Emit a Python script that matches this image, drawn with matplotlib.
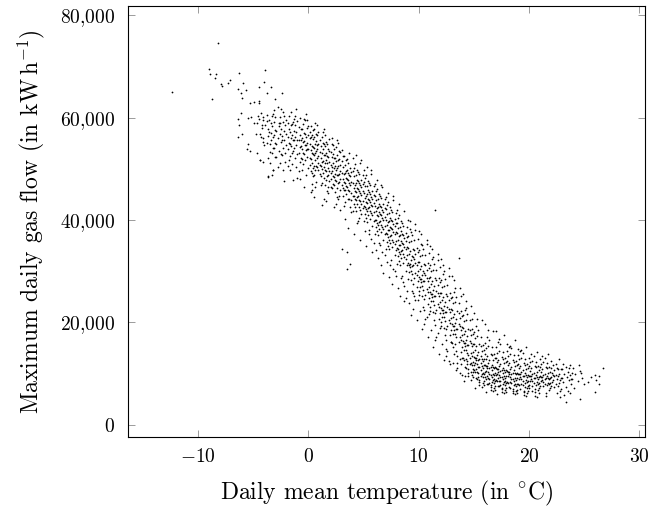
import matplotlib
matplotlib.use("Agg")
import matplotlib.pyplot as plt
import numpy as np

# points, flat pairs:
# (temperature in 0.1 degC, max gas flow in 100 kWh/h)
pts_cold = [-124, 650, -90, 696, -89, 686, -84, 686, -85, 678, -82, 747, -63, 688, -39, 694,
            -79, 666, -78, 663, -73, 667, -71, 673, -59, 668, -64, 656, -61, 649, -57, 654,
            -40, 669, -45, 660, -38, 649, -87, 636, -60, 639, -53, 628, -49, 631, -45, 633,
            -45, 628, -61, 610, -64, 597, -55, 599, -52, 601, -49, 590, -47, 589, -63, 586,
            -60, 568, -64, 563, -55, 548, -56, 539, -53, 535, -47, 531, -44, 518, -41, 514,
            -37, 486, -46, 603, -43, 609, -41, 602, -38, 605, -45, 598, -41, 595, -38, 594,
            -42, 586, -39, 585, -37, 578, -48, 568, -44, 568, -42, 580, -43, 562, -41, 560,
            -37, 565, -41, 552, -38, 551, -40, 546, -37, 521, -44, 517]

pts_m3 = [-36, 572, -35, 548, -34, 660, -34, 589, -33, 603, -33, 531, -32, 562, -32, 497,
          -31, 615, -31, 541, -30, 577, -30, 523, -36, 595, -35, 511, -34, 556, -33, 584,
          -32, 608, -31, 566, -30, 550, -35, 534, -33, 488, -31, 592, -34, 570, -32, 541,
          -30, 601, -37, 484, -32, 497, -30, 637]

pts_m2 = [-29, 575, -29, 548, -28, 622, -28, 561, -28, 503, -27, 590, -27, 536, -26, 569,
          -26, 512, -26, 601, -25, 617, -25, 553, -25, 579, -24, 648, -24, 527, -24, 565,
          -23, 592, -23, 541, -23, 498, -22, 574, -22, 556, -22, 603, -21, 532, -21, 586,
          -21, 514, -20, 568, -20, 547, -20, 595, -27, 583, -25, 530, -23, 611, -29, 524,
          -26, 589, -24, 557, -22, 476]

pts_m1 = [-19, 562, -19, 538, -19, 589, -18, 517, -18, 604, -18, 551, -17, 573, -17, 526,
          -17, 498, -16, 585, -16, 545, -16, 612, -15, 532, -15, 567, -15, 509, -14, 591,
          -14, 556, -14, 478, -13, 574, -13, 540, -13, 598, -12, 521, -12, 563, -12, 585,
          -11, 547, -11, 503, -11, 572, -10, 529, -10, 556, -10, 594, -18, 579, -16, 560,
          -14, 535, -12, 604, -15, 588, -13, 557, -17, 549, -11, 617, -19, 506, -10, 482]

pts_m0 = [-9, 557, -9, 531, -9, 582, -8, 513, -8, 566, -8, 600, -7, 544, -7, 522, -7, 579,
          -6, 497, -6, 561, -6, 538, -5, 588, -5, 509, -5, 552, -4, 571, -4, 529, -4, 464,
          -3, 546, -3, 595, -3, 518, -2, 563, -2, 537, -2, 489, -1, 580, -1, 551, -1, 524,
          0, 566, 0, 539, 0, 502, -8, 543, -6, 579, -4, 555, -2, 608, -9, 495, -5, 531,
          -3, 568, -1, 596, -7, 556, 0, 584, -6, 520, -4, 598, -2, 547, -8, 481, -1, 538]

pts_0 = [1, 548, 1, 521, 1, 573, 2, 496, 2, 537, 2, 562, 2, 583, 3, 512, 3, 545, 3, 471,
         4, 558, 4, 529, 4, 502, 4, 577, 5, 541, 5, 488, 5, 563, 6, 517, 6, 549, 6, 532,
         6, 590, 7, 506, 7, 554, 7, 475, 8, 539, 8, 566, 8, 521, 9, 497, 9, 548, 9, 572,
         1, 508, 2, 519, 3, 566, 4, 486, 5, 527, 6, 465, 7, 536, 8, 503, 9, 525, 3, 531,
         5, 506, 7, 569, 9, 512, 2, 455, 4, 542, 6, 498, 8, 547, 1, 560, 3, 492, 5, 578]

pts_1 = [10, 534, 10, 508, 10, 556, 11, 487, 11, 521, 11, 545, 12, 499, 12, 562, 12, 473,
         13, 516, 13, 538, 13, 551, 14, 482, 14, 527, 14, 503, 15, 545, 15, 469, 15, 511,
         15, 567, 16, 495, 16, 532, 16, 518, 17, 486, 17, 549, 17, 456, 18, 523, 18, 501,
         18, 539, 19, 477, 19, 514, 19, 558, 10, 490, 11, 506, 12, 531, 13, 492, 14, 549,
         15, 528, 16, 479, 17, 512, 18, 488, 19, 536, 11, 468, 13, 573, 15, 498, 17, 526,
         19, 495, 12, 514, 14, 441, 16, 553, 18, 464]

pts_2 = [20, 508, 20, 481, 20, 533, 21, 495, 21, 462, 21, 524, 22, 547, 22, 486, 22, 511,
         23, 469, 23, 502, 23, 538, 24, 478, 24, 521, 24, 454, 25, 497, 25, 515, 25, 543,
         26, 463, 26, 489, 26, 528, 27, 505, 27, 472, 27, 551, 28, 491, 28, 519, 28, 447,
         29, 481, 29, 507, 29, 533, 20, 464, 21, 548, 22, 470, 23, 485, 24, 506, 25, 476,
         26, 501, 27, 489, 28, 536, 29, 458, 20, 492, 22, 529, 24, 490, 26, 445, 28, 474,
         21, 503, 23, 521, 25, 432, 27, 518, 29, 496]

pts_3 = [30, 492, 30, 468, 30, 515, 31, 447, 31, 481, 31, 503, 32, 526, 32, 459, 32, 490,
         33, 472, 33, 435, 33, 508, 34, 483, 34, 518, 34, 451, 35, 464, 35, 497, 35, 337,
         35, 304, 36, 478, 36, 442, 36, 512, 37, 489, 37, 456, 37, 531, 38, 468, 38, 315,
         38, 501, 39, 475, 39, 439, 39, 494, 30, 344, 31, 462, 32, 475, 33, 493, 34, 467,
         35, 481, 36, 458, 37, 473, 38, 487, 39, 452, 30, 537, 32, 428, 34, 496, 36, 493,
         38, 426, 31, 526, 33, 458, 35, 519, 37, 441]

pts_4 = [40, 472, 40, 448, 40, 495, 41, 431, 41, 463, 41, 486, 42, 509, 42, 441, 42, 469,
         43, 455, 43, 418, 43, 488, 44, 463, 44, 497, 44, 432, 45, 447, 45, 476, 45, 398,
         46, 457, 46, 425, 46, 491, 47, 468, 47, 437, 47, 512, 48, 449, 48, 411, 48, 479,
         49, 456, 49, 423, 49, 471, 40, 418, 41, 447, 42, 456, 43, 472, 44, 446, 45, 461,
         46, 440, 47, 452, 48, 465, 49, 438, 40, 521, 42, 425, 44, 479, 46, 473, 48, 432,
         41, 502, 43, 439, 45, 494, 47, 419, 49, 488]

pts_5 = [50, 452, 50, 428, 50, 474, 51, 411, 51, 443, 51, 466, 52, 489, 52, 421, 52, 448,
         53, 434, 53, 397, 53, 467, 54, 441, 54, 476, 54, 409, 55, 425, 55, 455, 55, 381,
         56, 436, 56, 402, 56, 469, 57, 446, 57, 414, 57, 491, 58, 427, 58, 388, 58, 457,
         59, 433, 59, 399, 59, 449, 50, 398, 51, 426, 52, 435, 53, 451, 54, 423, 55, 439,
         56, 418, 57, 430, 58, 442, 59, 415, 50, 497, 52, 405, 54, 458, 56, 451, 58, 409,
         51, 482, 53, 417, 55, 472, 57, 363, 59, 466]

pts_6 = [60, 427, 60, 401, 60, 448, 61, 386, 61, 417, 61, 439, 62, 461, 62, 395, 62, 423,
         63, 408, 63, 371, 63, 441, 64, 415, 64, 451, 64, 383, 65, 399, 65, 428, 65, 352,
         66, 410, 66, 376, 66, 443, 67, 420, 67, 387, 67, 465, 68, 401, 68, 361, 68, 431,
         69, 406, 69, 372, 69, 423, 60, 372, 61, 400, 62, 409, 63, 425, 64, 397, 65, 412,
         66, 391, 67, 404, 68, 416, 69, 389, 60, 471, 62, 379, 64, 432, 66, 425, 68, 383,
         61, 456, 63, 391, 65, 447, 67, 338, 69, 441]

pts_7 = [70, 401, 70, 374, 70, 422, 71, 358, 71, 390, 71, 412, 72, 436, 72, 367, 72, 396,
         73, 381, 73, 343, 73, 414, 74, 387, 74, 425, 74, 355, 75, 371, 75, 401, 75, 322,
         76, 382, 76, 347, 76, 416, 77, 392, 77, 358, 77, 439, 78, 372, 78, 332, 78, 403,
         79, 377, 79, 342, 79, 395, 70, 344, 71, 372, 72, 381, 73, 398, 74, 369, 75, 384,
         76, 362, 77, 376, 78, 388, 79, 360, 70, 446, 72, 350, 74, 405, 76, 398, 78, 354,
         71, 430, 73, 362, 75, 420, 77, 305, 79, 413]

pts_8 = [80, 374, 80, 346, 80, 395, 81, 329, 81, 362, 81, 385, 82, 409, 82, 338, 82, 368,
         83, 352, 83, 313, 83, 387, 84, 359, 84, 398, 84, 325, 85, 342, 85, 373, 85, 291,
         86, 353, 86, 317, 86, 389, 87, 364, 87, 328, 87, 241, 88, 343, 88, 301, 88, 375,
         89, 348, 89, 312, 89, 367, 80, 315, 81, 343, 82, 352, 83, 370, 84, 340, 85, 356,
         86, 333, 87, 347, 88, 360, 89, 331, 80, 420, 82, 320, 84, 378, 86, 371, 88, 323,
         81, 404, 83, 333, 85, 394, 87, 272, 89, 386]

pts_9 = [90, 346, 90, 317, 90, 368, 91, 299, 91, 333, 91, 357, 92, 382, 92, 308, 92, 339,
         93, 322, 93, 282, 93, 359, 94, 330, 94, 371, 94, 295, 95, 312, 95, 344, 95, 258,
         96, 323, 96, 286, 96, 361, 97, 334, 97, 297, 97, 392, 98, 312, 98, 269, 98, 346,
         99, 318, 99, 280, 99, 338, 90, 284, 92, 314, 94, 311, 96, 342, 98, 292, 91, 313,
         93, 300, 95, 327, 97, 316, 99, 301, 90, 401, 93, 376, 95, 226, 97, 243, 99, 363]

pts_10 = [100, 318, 100, 288, 100, 341, 101, 270, 101, 304, 101, 329, 102, 353, 102, 278,
          102, 310, 103, 292, 103, 251, 103, 331, 104, 300, 104, 343, 104, 264, 105, 281,
          105, 315, 105, 225, 106, 292, 106, 254, 106, 332, 107, 303, 107, 265, 107, 362,
          108, 281, 108, 236, 108, 316, 109, 287, 109, 248, 109, 307, 100, 253, 102, 285,
          104, 281, 106, 312, 108, 260, 101, 284, 103, 271, 105, 297, 107, 286, 109, 270,
          100, 378, 103, 352, 105, 196, 107, 210, 109, 336]

pts_11 = [110, 289, 110, 259, 110, 312, 111, 241, 111, 275, 111, 300, 112, 324, 112, 249,
          112, 281, 113, 263, 113, 221, 113, 302, 114, 271, 114, 314, 114, 234, 115, 252,
          115, 286, 115, 419, 116, 262, 116, 224, 116, 303, 117, 274, 117, 235, 117, 333,
          118, 251, 118, 206, 118, 287, 119, 257, 119, 218, 119, 278, 110, 223, 112, 256,
          114, 251, 116, 283, 118, 230, 111, 255, 113, 241, 115, 194, 117, 257, 119, 240,
          110, 349, 113, 327, 115, 166, 117, 180, 119, 308]

pts_12 = [120, 258, 120, 228, 120, 282, 121, 210, 121, 244, 121, 270, 122, 294, 122, 218,
          122, 250, 123, 232, 123, 190, 123, 272, 124, 240, 124, 284, 124, 203, 125, 221,
          125, 256, 125, 165, 126, 231, 126, 193, 126, 273, 127, 243, 127, 204, 127, 306,
          128, 220, 128, 175, 128, 257, 129, 226, 129, 186, 129, 247, 120, 192, 122, 225,
          124, 220, 126, 252, 128, 199, 121, 224, 123, 210, 125, 135, 127, 226, 129, 209,
          120, 323, 123, 301, 125, 148, 127, 124, 129, 162]

pts_13 = [130, 224, 130, 196, 130, 249, 131, 178, 131, 211, 131, 237, 132, 260, 132, 186,
          132, 217, 133, 199, 133, 158, 133, 239, 134, 207, 134, 250, 134, 171, 135, 188,
          135, 222, 135, 134, 136, 197, 136, 161, 136, 238, 137, 209, 137, 172, 137, 268,
          138, 186, 138, 143, 138, 222, 139, 191, 139, 152, 139, 212, 130, 160, 132, 193,
          134, 188, 136, 219, 138, 166, 131, 192, 133, 178, 135, 110, 137, 192, 139, 176,
          130, 291, 133, 268, 135, 121, 137, 102, 139, 131, 136, 325, 134, 145, 132, 139,
          138, 118, 131, 152]

pts_14 = [140, 190, 140, 163, 140, 214, 141, 147, 141, 178, 141, 203, 142, 225, 142, 154,
          142, 184, 143, 166, 143, 128, 143, 205, 144, 174, 144, 216, 144, 140, 145, 156,
          145, 188, 145, 108, 146, 164, 146, 131, 146, 204, 147, 176, 147, 140, 147, 233,
          148, 153, 148, 116, 148, 188, 149, 158, 149, 122, 149, 178, 140, 131, 142, 160,
          144, 155, 146, 185, 148, 135, 141, 160, 143, 146, 145, 95, 147, 159, 149, 143,
          140, 256, 143, 241, 145, 102, 147, 88, 149, 104, 146, 118, 144, 124, 142, 112,
          148, 98, 141, 127, 143, 111, 145, 137, 147, 121, 149, 93, 141, 86]

pts_15 = [150, 158, 150, 133, 150, 181, 151, 120, 151, 147, 151, 170, 152, 192, 152, 126,
          152, 153, 153, 137, 153, 104, 153, 173, 154, 143, 154, 186, 154, 113, 155, 128,
          155, 157, 155, 88, 156, 134, 156, 107, 156, 171, 157, 145, 157, 114, 157, 204,
          158, 125, 158, 94, 158, 156, 159, 129, 159, 99, 159, 147, 150, 106, 152, 131,
          154, 127, 156, 154, 158, 110, 151, 131, 153, 119, 155, 78, 157, 129, 159, 116,
          150, 218, 153, 207, 155, 83, 157, 74, 159, 85, 156, 96, 154, 101, 152, 91,
          158, 81, 151, 103, 153, 90, 155, 112, 157, 99, 159, 77, 151, 71, 150, 117,
          152, 109, 154, 93, 156, 120, 158, 102]

pts_16 = [160, 139, 160, 117, 160, 160, 161, 105, 161, 129, 161, 150, 162, 171, 162, 110,
          162, 135, 163, 120, 163, 91, 163, 153, 164, 126, 164, 166, 164, 99, 165, 112,
          165, 139, 165, 77, 166, 117, 166, 94, 166, 151, 167, 127, 167, 100, 167, 184,
          168, 110, 168, 82, 168, 138, 169, 113, 169, 86, 169, 130, 160, 93, 162, 115,
          164, 111, 166, 136, 168, 97, 161, 115, 163, 104, 165, 68, 167, 113, 169, 101,
          160, 197, 163, 186, 165, 73, 167, 65, 169, 75, 166, 84, 164, 89, 162, 80,
          168, 71, 161, 90, 163, 79, 165, 98, 167, 87, 169, 68, 161, 63, 160, 103,
          162, 96, 164, 82, 166, 106, 168, 90]

pts_17 = [170, 131, 170, 110, 170, 151, 171, 99, 171, 122, 171, 141, 172, 161, 172, 104,
          172, 127, 173, 114, 173, 86, 173, 145, 174, 119, 174, 157, 174, 93, 175, 106,
          175, 132, 175, 72, 176, 111, 176, 89, 176, 143, 177, 120, 177, 95, 177, 176,
          178, 104, 178, 78, 178, 131, 179, 107, 179, 82, 179, 123, 170, 88, 172, 109,
          174, 105, 176, 129, 178, 92, 171, 109, 173, 98, 175, 64, 177, 107, 179, 95,
          170, 184, 173, 168, 175, 69, 177, 62, 179, 71, 176, 80, 174, 85, 172, 76,
          178, 67, 171, 86, 173, 75, 175, 93, 177, 83, 179, 64, 171, 60, 170, 98,
          172, 91, 174, 78, 176, 101, 178, 86]

pts_18 = [180, 125, 180, 105, 180, 144, 181, 95, 181, 116, 181, 134, 182, 152, 182, 99,
          182, 121, 183, 109, 183, 83, 183, 138, 184, 113, 184, 149, 184, 89, 185, 101,
          185, 126, 185, 69, 186, 106, 186, 85, 186, 136, 187, 114, 187, 91, 187, 165,
          188, 99, 188, 75, 188, 125, 189, 102, 189, 79, 189, 117, 180, 84, 182, 104,
          184, 100, 186, 123, 188, 88, 181, 104, 183, 94, 185, 62, 187, 102, 189, 91,
          180, 158, 183, 154, 185, 66, 187, 60, 189, 68, 186, 77, 184, 81, 182, 73,
          188, 65, 181, 82, 183, 72, 185, 89, 187, 79, 189, 61]

pts_19 = [190, 119, 190, 100, 190, 137, 191, 90, 191, 110, 191, 128, 192, 145, 192, 94,
          192, 115, 193, 104, 193, 79, 193, 131, 194, 107, 194, 141, 194, 85, 195, 96,
          195, 120, 195, 66, 196, 101, 196, 81, 196, 129, 197, 108, 197, 87, 197, 152,
          198, 94, 198, 71, 198, 119, 199, 97, 199, 75, 199, 111, 190, 80, 192, 99,
          194, 95, 196, 117, 198, 84, 191, 99, 193, 89, 195, 59, 197, 97, 199, 86,
          190, 148, 193, 146, 195, 63, 197, 56, 199, 65, 196, 73, 194, 77, 192, 69,
          198, 62, 191, 78]

pts_20 = [200, 114, 200, 96, 200, 131, 201, 86, 201, 105, 201, 122, 202, 138, 202, 90,
          202, 110, 203, 99, 203, 76, 203, 125, 204, 102, 204, 134, 204, 81, 205, 92,
          205, 115, 205, 63, 206, 97, 206, 78, 206, 123, 207, 103, 207, 83, 207, 143,
          208, 90, 208, 68, 208, 114, 209, 93, 209, 72, 209, 106, 200, 77, 202, 95,
          204, 91, 206, 112, 208, 80, 201, 95, 203, 85, 205, 57, 207, 93, 209, 82,
          200, 72, 203, 66, 205, 69, 207, 54, 209, 61]

pts_21 = [210, 112, 210, 95, 210, 128, 211, 85, 211, 103, 211, 119, 212, 134, 212, 88,
          212, 108, 213, 98, 213, 75, 213, 122, 214, 100, 214, 131, 214, 80, 215, 91,
          215, 113, 215, 62, 216, 96, 216, 77, 216, 120, 217, 101, 217, 82, 217, 139,
          218, 89, 218, 67, 218, 112, 219, 92, 219, 71, 219, 104, 210, 76, 212, 94,
          214, 90, 216, 110, 218, 79, 211, 94, 213, 84, 215, 56, 217, 92, 219, 81]

pts_22 = [220, 110, 220, 93, 220, 125, 221, 84, 221, 101, 222, 117, 222, 87, 223, 106,
          223, 74, 223, 96, 224, 119, 224, 79, 225, 90, 225, 111, 225, 61, 226, 95,
          226, 76, 227, 100, 227, 81, 227, 128, 228, 88, 228, 66, 229, 109, 229, 91,
          229, 70, 220, 75, 222, 98, 224, 97, 226, 108, 228, 54]

pts_warm = [230, 108, 230, 91, 231, 83, 231, 119, 232, 99, 233, 74, 233, 112, 234, 94,
            235, 104, 235, 66, 236, 88, 237, 97, 237, 116, 238, 79, 239, 102, 239, 90,
            232, 58, 236, 110, 233, 45, 237, 62, 238, 90,
            240, 111, 246, 105, 242, 100, 250, 79, 256, 94, 260, 97, 263, 95, 261, 88,
            267, 110, 263, 80, 260, 63, 246, 50, 247, 101, 244, 86, 248, 92, 253, 84,
            241, 72, 245, 117]

# wider spread of the band's edges between 0 and 15 degC
pts_edges = [5, 445, 12, 430, 18, 452, 23, 425, 27, 441, 8, 585, 14, 578, 21, 560, 26, 556,
             29, 420, 3, 458, 16, 438, 33, 402, 36, 385, 41, 372, 44, 395, 47, 361, 52, 349,
             55, 372, 58, 338, 43, 528, 48, 517, 53, 503, 57, 497, 39, 415, 46, 404, 51, 378,
             59, 356, 61, 341, 63, 325, 66, 312, 68, 297, 71, 318, 73, 289, 76, 275, 78, 301,
             81, 268, 83, 252, 86, 279, 88, 247, 62, 478, 66, 469, 72, 452, 77, 447, 82, 431,
             87, 418, 64, 356, 69, 331, 74, 312, 79, 291, 84, 286, 89, 262, 91, 238, 93, 215,
             96, 251, 98, 204, 101, 222, 103, 188, 106, 207, 108, 171, 111, 186, 113, 152,
             116, 171, 118, 139, 121, 158, 123, 127, 126, 144, 128, 118, 92, 398, 97, 381,
             102, 372, 107, 354, 112, 343, 117, 322, 122, 313, 127, 291, 94, 262, 99, 244,
             104, 231, 109, 216, 114, 205, 119, 189, 124, 176, 129, 162, 95, 275, 100, 262,
             105, 245, 110, 231, 115, 218, 120, 201, 125, 187, 131, 121, 134, 107, 137, 129,
             139, 98, 142, 96, 144, 118, 147, 104, 149, 109, 132, 282, 138, 252, 143, 228,
             148, 206]

segments = [pts_cold, pts_m3, pts_m2, pts_m1, pts_m0, pts_0, pts_1, pts_2, pts_3, pts_4,
            pts_5, pts_6, pts_7, pts_8, pts_9, pts_10, pts_11, pts_12, pts_13, pts_14,
            pts_15, pts_16, pts_17, pts_18, pts_19, pts_20, pts_21, pts_22, pts_warm,
            pts_edges]

pairs = np.concatenate([np.array(s, dtype=float).reshape(-1, 2) for s in segments])
temperature = pairs[:, 0] / 10.0
gas_flow = pairs[:, 1] * 100.0

x_ticks = [-10, 0, 10, 20, 30]
y_ticks = [0, 20000, 40000, 60000, 80000]

plt.rcParams['font.family'] = 'serif'
plt.rcParams['font.serif'] = ['cmr10']
plt.rcParams['mathtext.fontset'] = 'cm'
plt.rcParams['axes.unicode_minus'] = False

fig = plt.figure(figsize=(6.53, 5.08), dpi=100)
ax = fig.add_axes([0.1953, 0.1398, 0.7924, 0.8484])

ax.scatter(temperature, gas_flow, s=1.6, c='black', linewidths=0)

ax.set_xlim(-16.4, 30.5)
ax.set_ylim(-2400, 81850)
ax.set_xticks(x_ticks)
ax.set_xticklabels(['$%d$' % t for t in x_ticks])
ax.set_yticks(y_ticks)
ax.set_yticklabels(['$0$' if v == 0 else '$%d{,}000$' % (v // 1000) for v in y_ticks])

ax.tick_params(direction='in', length=5, width=0.6, color='0.55', labelsize=14,
               top=True, right=True)
ax.tick_params(axis='x', pad=8)
ax.tick_params(axis='y', pad=9)
for sp in ax.spines.values():
    sp.set_linewidth(0.8)

ax.set_xlabel(r'Daily mean temperature (in $^{\circ}$C)', fontsize=17, labelpad=9)
ax.set_ylabel(r'Maximum daily gas flow (in kW$\,$h$^{-1}$)', fontsize=17, labelpad=9)

fig.savefig('out.png', dpi=100)
